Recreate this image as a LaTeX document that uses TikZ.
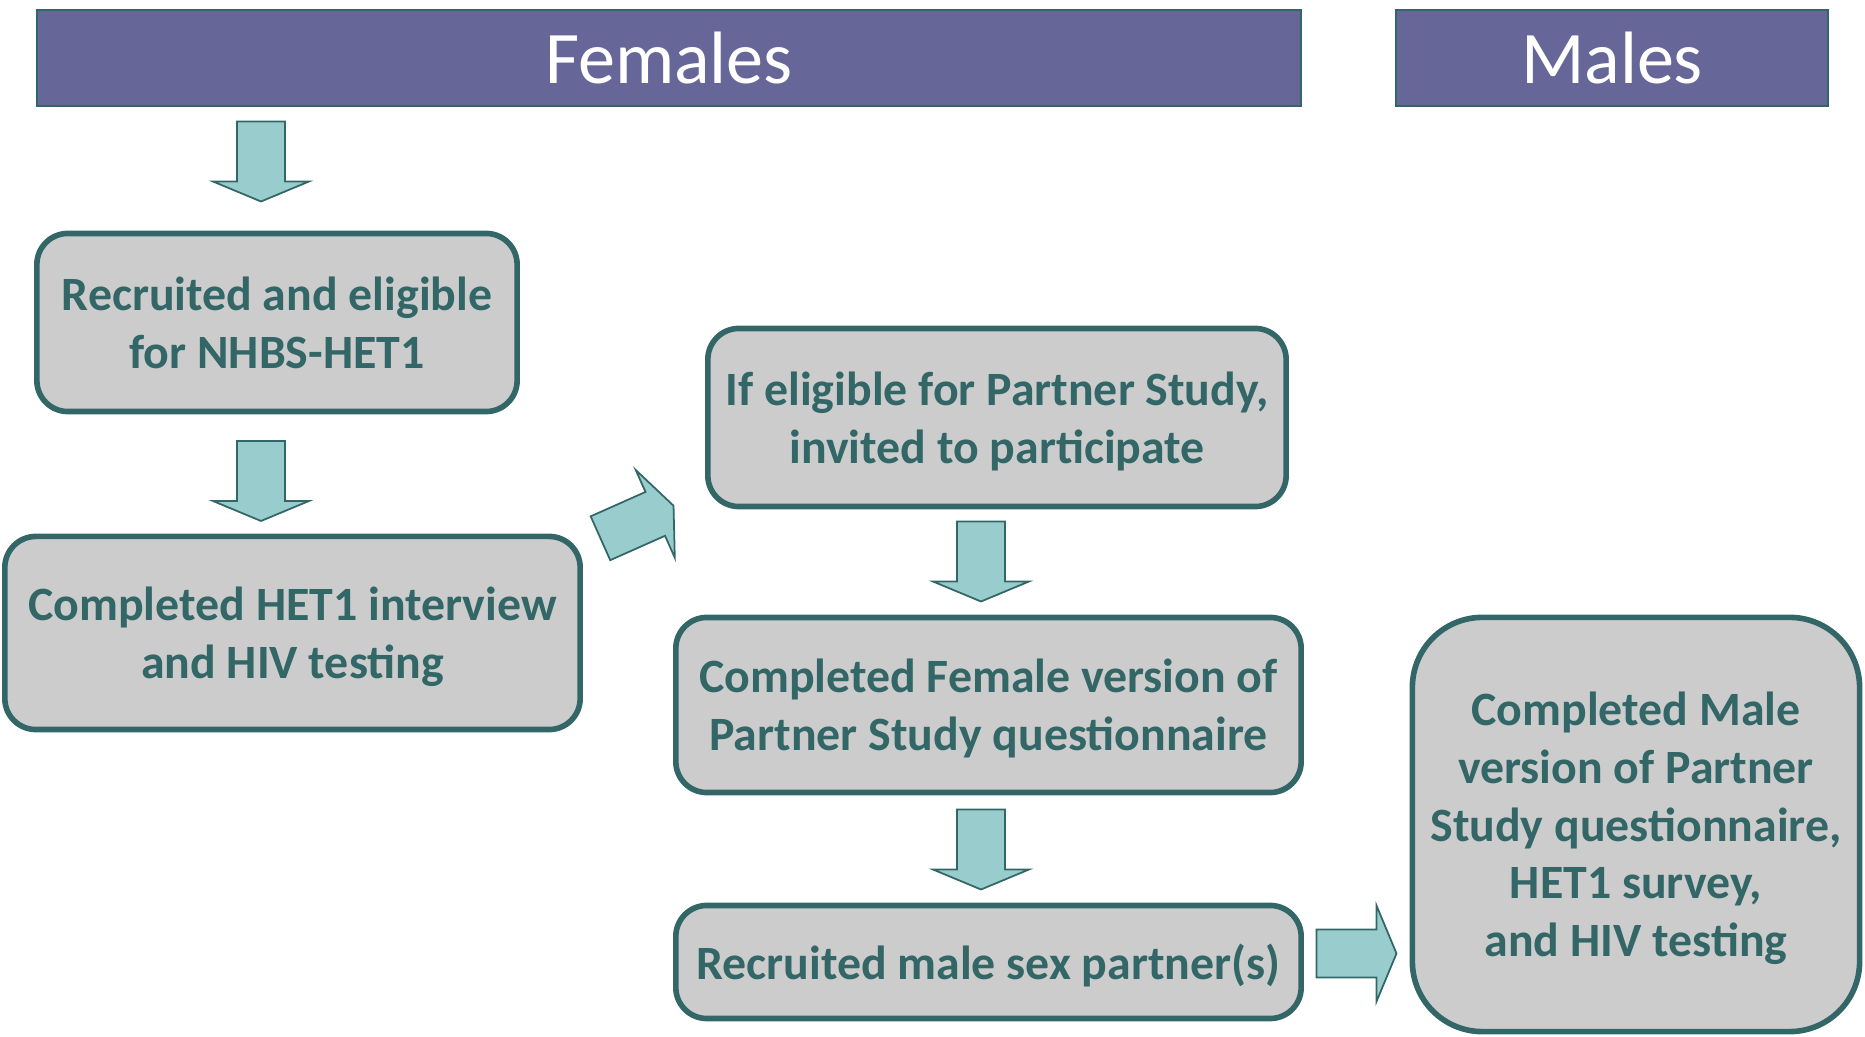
\documentclass[tikz,border=0pt]{standalone}
\usepackage{fontspec}
\setmainfont{Carlito}
\definecolor{lineteal}{RGB}{51,102,102}
\definecolor{bannerpurple}{RGB}{102,102,153}
\definecolor{boxgray}{RGB}{204,204,204}
\definecolor{arrowcyan}{RGB}{153,204,204}

\begin{document}
\begin{tikzpicture}[x=0.01cm,y=-0.01cm]
    \tikzset{banner/.style={draw=lineteal, line width=0.6pt, fill=bannerpurple, text=white,
      font=\fontsize{21.1}{25}\selectfont, inner sep=0pt, minimum height=0.96cm}}
    \tikzset{flowbox/.style={draw=lineteal, line width=1.6pt, fill=boxgray, rounded corners=0.31cm,
      text=lineteal, font=\bfseries\fontsize{13.6}{16.4}\selectfont, align=center, inner sep=0pt,
      text depth=0pt}}
    \tikzset{blockarrow/.pic={
      \draw[lineteal, fill=arrowcyan, line width=0.5pt, line join=miter]
        (-40,-24) -- (20,-24) -- (20,-48) -- (40,0) -- (20,48) -- (20,24) -- (-40,24) -- cycle;}}
    \useasboundingbox (0,0) rectangle (1865,1037);
    % headers
    \node[banner, minimum width=12.64cm] (females) at (669,58) {Females};
    \node[banner, minimum width=4.32cm] (males) at (1612,58) {Males};
    % female steps
    \node[flowbox, minimum width=4.80cm, minimum height=1.78cm] (recruit) at (277,322.5)
      {Recruited and eligible\\for NHBS-HET1};
    \node[flowbox, minimum width=5.75cm, minimum height=1.93cm] (het) at (292.5,633)
      {Completed HET1 interview\\and HIV testing};
    \node[flowbox, minimum width=5.78cm, minimum height=1.78cm] (invite) at (997,417.5)
      {If eligible for Partner Study,\\invited to participate};
    \node[flowbox, minimum width=6.25cm, minimum height=1.75cm] (femq) at (988.5,705)
      {Completed Female version of\\Partner Study questionnaire};
    \node[flowbox, minimum width=6.25cm, minimum height=1.13cm] (partner) at (988.5,962)
      {Recruited male sex partner(s)};
    % male step
    \node[flowbox, rounded corners=0.70cm, minimum width=4.47cm, minimum height=4.14cm] (maleq) at (1636,824.5)
      {Completed Male\\version of Partner\\Study questionnaire,\\HET1 survey,\\and HIV testing};
    % block arrows
    \pic[rotate=-90] at (261,161.5) {blockarrow};
    \pic[rotate=-90] at (261,481) {blockarrow};
    \pic[rotate=24] at (637,522) {blockarrow};
    \pic[rotate=-90] at (981,561.5) {blockarrow};
    \pic[rotate=-90] at (981,849.5) {blockarrow};
    \pic at (1356.5,953.5) {blockarrow};
  \end{tikzpicture}
\end{document}
